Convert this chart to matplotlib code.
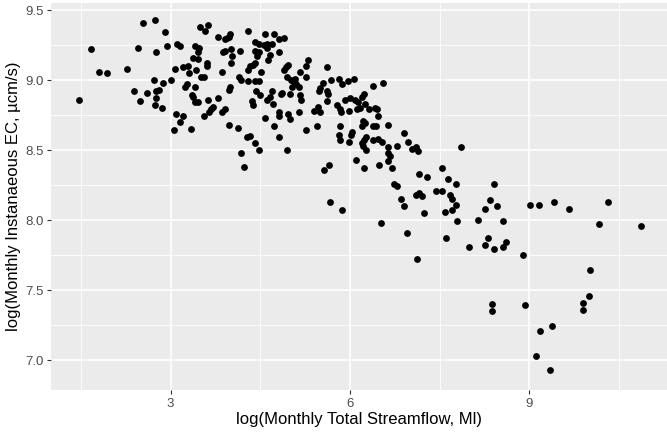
import matplotlib
matplotlib.use('Agg')
import matplotlib.pyplot as plt
import numpy as np
from matplotlib.ticker import MultipleLocator, FormatStrFormatter

plt.rcParams['font.family'] = ['Liberation Sans', 'DejaVu Sans']

# monthly total streamflow (log) and monthly instantaneous EC (log)
flow = [1.47, 1.67, 1.80, 1.94, 2.27, 2.38, 2.48, 2.45,
        2.53, 2.74, 2.91, 2.75, 2.94, 3.11, 3.16, 3.41, 3.48, 3.45, 3.38, 3.46,
        3.49, 3.63, 3.57, 3.08, 3.20, 3.29, 3.30, 3.42, 3.61, 3.61, 3.51, 3.56,
        3.00, 2.88, 2.72, 2.60, 2.75, 2.81, 2.76, 2.74, 2.85, 3.27, 3.24, 3.41,
        3.36, 3.38, 3.41, 3.45, 3.63, 3.71, 3.79, 3.67, 3.55, 3.65, 3.09, 3.20,
        3.16, 3.06, 3.34, 3.91, 3.86, 3.97, 4.13, 4.27, 4.33, 3.80, 3.91, 3.97,
        3.99, 3.95, 4.29, 4.58, 3.88, 3.91, 4.01, 4.16, 4.03, 4.01, 3.86, 4.14,
        4.17, 3.97, 3.99, 4.30, 4.41, 4.47, 4.33, 4.30, 4.37, 4.41, 4.51, 4.44,
        4.47, 4.41, 4.41, 4.48, 4.56, 4.62, 4.61, 4.63, 4.43, 4.50, 4.36, 4.38,
        4.58, 4.62,
        4.73, 4.81, 4.90, 4.70, 4.67, 4.81, 4.97, 4.93, 4.89, 5.29, 5.27, 5.17,
        5.26, 4.94, 5.01, 5.08, 5.05, 5.09, 5.03, 5.14, 4.70, 4.66, 4.72, 4.84,
        4.87, 5.00, 5.16, 5.18, 4.81, 4.81, 4.96, 5.00, 5.14, 4.73, 4.82, 5.26,
        5.44, 5.39, 5.46, 5.49, 5.62, 5.69, 5.82, 5.86, 5.96, 6.06, 5.55, 5.50,
        5.48, 5.61, 5.64, 5.62, 5.92, 6.00, 5.79, 5.83, 5.85, 5.98, 6.08, 6.13,
        6.20, 6.23, 6.16, 6.11, 6.25, 6.32, 6.41, 6.45, 6.46, 6.38, 6.55, 6.21,
        6.20, 6.25, 6.39, 6.43, 6.64, 5.83, 5.82, 6.04, 6.02,
        4.41, 4.17, 4.48, 4.22, 4.95, 5.57, 5.65, 5.66, 5.86, 5.83, 5.98,
        6.27, 6.23, 6.20, 6.22, 6.26, 6.39, 6.47, 6.53, 6.90, 6.97, 7.03, 7.10,
        7.13, 6.64, 6.64, 6.67, 6.79, 6.64, 6.10, 6.24, 6.49, 6.71, 7.86, 7.16,
        7.28, 6.74, 6.78, 7.54, 7.64, 7.78, 6.86, 6.90, 7.10, 7.15, 7.21, 7.44,
        7.53, 7.67, 7.71, 7.77, 7.59, 7.70, 7.24, 7.79, 6.51, 6.96, 7.60, 8.40,
        8.34, 8.45, 8.25, 8.14, 8.31, 8.26, 8.41, 7.99, 7.12, 8.38, 8.38, 8.56,
        8.55, 8.61, 8.89, 9.01, 9.16, 9.41, 9.66, 10.32, 10.17, 10.87, 10.01, 10.00,
        9.89, 9.89, 8.92, 9.17, 9.38, 9.11, 9.35]

ec = [8.86, 9.22, 9.06, 9.05, 9.08, 8.92, 8.85, 9.23,
      9.41, 9.43, 9.34, 9.20, 9.24, 9.26, 9.24, 9.24, 9.23, 9.20, 9.16, 9.15,
      9.38, 9.39, 9.35, 9.08, 9.09, 9.10, 9.05, 9.07, 9.12, 9.10, 9.02, 9.02,
      9.00, 8.98, 9.00, 8.91, 8.92, 8.93, 8.87, 8.82, 8.80, 8.97, 8.95, 8.95,
      8.89, 8.88, 8.84, 8.84, 8.86, 8.81, 8.87, 8.79, 8.74, 8.77, 8.76, 8.74,
      8.70, 8.64, 8.65, 8.79, 8.77, 8.68, 8.66, 8.59, 8.60, 9.31, 9.29, 9.31,
      9.33, 9.30, 9.35, 9.33, 9.20, 9.21, 9.22, 9.21, 9.17, 9.12, 9.06, 9.02,
      9.00, 8.93, 8.95, 8.99, 8.99, 8.99, 9.10, 9.07, 9.11, 9.12, 9.06, 9.17,
      9.20, 9.21, 9.27, 9.26, 9.25, 9.26, 9.23, 9.14, 8.92, 8.89, 8.85, 8.82,
      8.73, 8.86,
      9.33, 9.29, 9.30, 9.26, 9.18, 9.20, 9.11, 9.09, 9.07, 9.14, 9.10, 9.06,
      9.02, 9.02, 9.00, 9.01, 8.99, 8.97, 8.95, 8.95, 8.92, 8.88, 8.83, 8.90,
      8.91, 8.90, 8.89, 8.86, 8.77, 8.74, 8.76, 8.72, 8.77, 8.67, 8.59, 8.64,
      8.67, 8.78, 8.81, 8.77, 9.09, 9.00, 9.01, 8.97, 8.99, 9.01, 8.98, 8.94,
      8.92, 8.92, 8.90, 8.85, 8.86, 8.87, 8.82, 8.79, 8.77, 8.78, 8.86, 8.84,
      8.88, 8.90, 8.80, 8.79, 8.83, 8.79, 8.80, 8.79, 8.74, 8.96, 8.98, 8.71,
      8.67, 8.69, 8.67, 8.67, 8.68, 8.67, 8.61, 8.63, 8.61,
      8.55, 8.48, 8.50, 8.38, 8.50, 8.36, 8.39, 8.13, 8.07, 8.57, 8.56,
      8.59, 8.57, 8.55, 8.53, 8.50, 8.57, 8.58, 8.56, 8.62, 8.56, 8.51, 8.52,
      8.49, 8.52, 8.48, 8.46, 8.53, 8.42, 8.43, 8.37, 8.39, 8.37, 8.52, 8.33,
      8.31, 8.26, 8.24, 8.37, 8.29, 8.26, 8.15, 8.10, 8.18, 8.19, 8.17, 8.21,
      8.21, 8.18, 8.15, 8.11, 8.06, 8.07, 8.05, 7.99, 7.98, 7.91, 7.87, 8.26,
      8.14, 8.10, 8.08, 8.00, 7.87, 7.82, 7.79, 7.81, 7.72, 7.40, 7.35, 7.99,
      7.81, 7.84, 7.75, 8.11, 8.11, 8.13, 8.08, 8.13, 7.97, 7.96, 7.64, 7.46,
      7.41, 7.36, 7.39, 7.21, 7.24, 7.03, 6.93]

W, H = 667, 436
fig = plt.figure(figsize=(W / 100, H / 100), dpi=100)
# panel placed in pixels like the ggplot output
ax = fig.add_axes([51 / W, 1 - 390 / H, 616 / W, 387 / H])

ax.set_facecolor('#EBEBEB')
for s in ax.spines.values():
    s.set_visible(False)

ax.scatter(flow, ec, s=24, color='black', linewidths=0, zorder=3)

ax.set_xlim(1.0, 11.3)
ax.set_ylim(6.786, 9.55)

ax.xaxis.set_major_locator(MultipleLocator(3))
ax.xaxis.set_minor_locator(MultipleLocator(1.5))
ax.yaxis.set_major_locator(MultipleLocator(0.5))
ax.yaxis.set_minor_locator(MultipleLocator(0.25))
ax.yaxis.set_major_formatter(FormatStrFormatter('%.1f'))

ax.grid(which='major', color='white', linewidth=1.2, zorder=0)
ax.grid(which='minor', color='white', linewidth=0.6, zorder=0)
ax.set_axisbelow(True)

ax.tick_params(which='major', length=3, width=0.8, color='#333333',
               labelsize=9.5, labelcolor='#4D4D4D', pad=2.5)
ax.tick_params(which='minor', length=0)

ax.set_xlabel('log(Monthly Total Streamflow, Ml)', fontsize=12, color='black', labelpad=2)
ax.set_ylabel('log(Monthly Instanaeous EC, µcm/s)', fontsize=12, color='black', labelpad=3)

fig.savefig('out.png', dpi=100)
